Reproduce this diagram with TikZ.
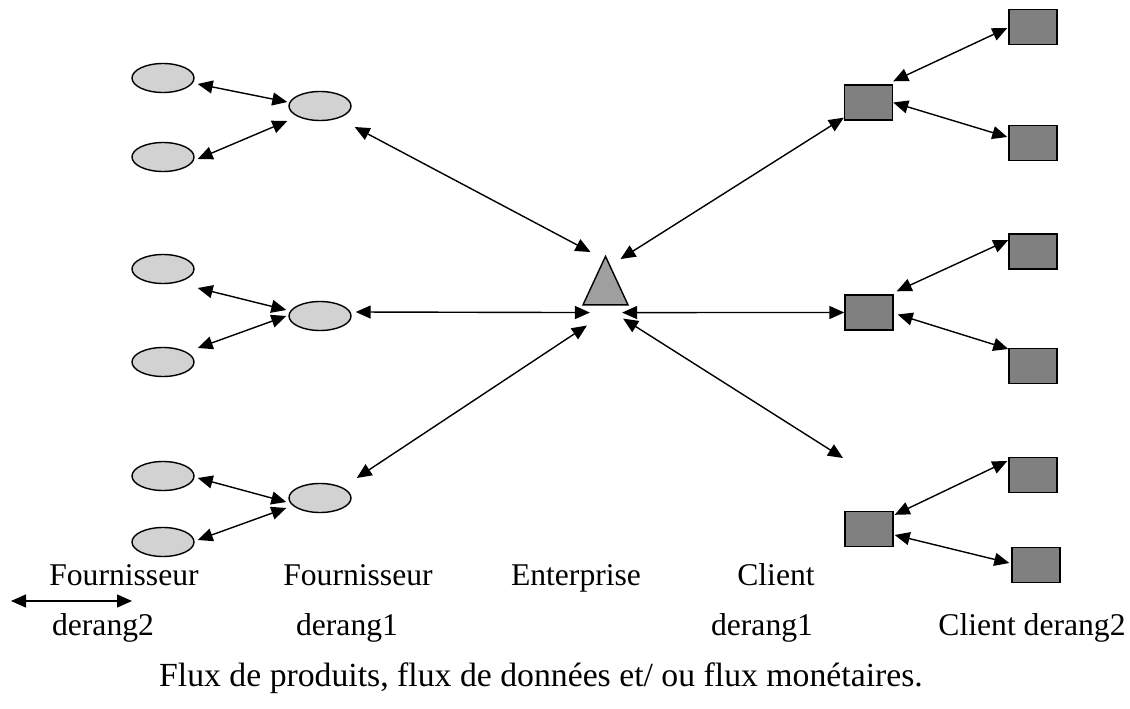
\documentclass[tikz,border=0pt]{standalone}
\usepackage{fontspec}
\setmainfont{Liberation Serif}
\usepackage{xcolor}
\usepackage{tikz}
\usetikzlibrary{arrows.meta,positioning,shapes.geometric}
\tikzset{
  >={Triangle[length=3mm,width=2.6mm]},
  fsr/.style={draw, ellipse, fill=gray!35, line width=0.8pt, minimum width=1.24cm, minimum height=0.58cm, inner sep=0pt},
  cli/.style={draw, rectangle, fill=gray, line width=0.8pt, minimum width=0.96cm, minimum height=0.70cm, inner sep=0pt},
  entr/.style={draw, isosceles triangle, shape border rotate=90, isosceles triangle stretches, fill=gray!75, line width=0.8pt, minimum width=0.9cm, minimum height=0.97cm, inner sep=0pt},
  flow/.style={<->, line width=0.8pt},
  lbl/.style={anchor=base, inner sep=0pt, font=\fontsize{18}{21}\selectfont},
}

\begin{document}
\begin{tikzpicture}
  \useasboundingbox (0,0) rectangle (22.6,14.16);
  \node[fsr] (f2a) at (3.26,12.60) {};
  \node[fsr] (f2b) at (3.26,11.02) {};
  \node[fsr] (f2c) at (3.26,8.78) {};
  \node[fsr] (f2d) at (3.26,6.92) {};
  \node[fsr] (f2e) at (3.26,4.64) {};
  \node[fsr] (f2f) at (3.26,3.32) {};
  \node[fsr] (f1a) at (6.40,12.04) {};
  \node[fsr] (f1b) at (6.40,7.84) {};
  \node[fsr] (f1c) at (6.40,4.20) {};
  \node[entr] (ent) at (12.11,8.35) {};
  \node[cli] (c1a) at (17.37,12.11) {};
  \node[cli] (c1b) at (17.38,7.91) {};
  \node[cli] (c1c) at (17.38,3.58) {};
  \node[cli] (c2a) at (20.66,13.62) {};
  \node[cli] (c2b) at (20.66,11.30) {};
  \node[cli] (c2c) at (20.66,9.13) {};
  \node[cli] (c2d) at (20.66,6.84) {};
  \node[cli] (c2e) at (20.66,4.66) {};
  \node[cli] (c2f) at (20.72,2.86) {};
  \coordinate (lost) at (16.86,5.00);
  \coordinate (leg1) at (0.22,2.14);
  \coordinate (leg2) at (2.64,2.14);
  \draw[flow] ([shift={(0.06,-0.12)}]f2a.east) -- ([shift={(-0.02,0.08)}]f1a.west);
  \draw[flow] ([shift={(0.06,-0.04)}]f2b.east) -- ([shift={(-0.02,-0.30)}]f1a.west);
  \draw[flow] ([shift={(0.06,-0.38)}]f2c.east) -- ([shift={(-0.04,0.12)}]f1b.west);
  \draw[flow] ([shift={(0.06,0.28)}]f2d.east) -- ([shift={(-0.04,0)}]f1b.west);
  \draw[flow] ([shift={(0.06,-0.04)}]f2e.east) -- ([shift={(-0.04,-0.08)}]f1c.west);
  \draw[flow] ([shift={(0.06,0.04)}]f2f.east) -- ([shift={(-0.04,-0.20)}]f1c.west);
  \draw[flow] ([shift={(0.06,-0.42)}]f1a.east) -- ([shift={(-0.30,0.05)}]ent.apex);
  \draw[flow] ([shift={(0.08,0.08)}]f1b.east) -- ([shift={(0.16,-0.14)}]ent.left corner);
  \draw[flow] ([shift={(0.10,0.40)}]f1c.east) -- ([shift={(0.10,-0.40)}]ent.left corner);
  \draw[flow] ([shift={(0.30,-0.09)}]ent.apex) -- ([shift={(0,0.06)}]c1a.south west);
  \draw[flow] ([shift={(-0.14,-0.14)}]ent.right corner) -- (c1b.west);
  \draw[flow] ([shift={(-0.12,-0.26)}]ent.right corner) -- (lost);
  \draw[flow] ([shift={(0,0.06)}]c1a.north east) -- ([shift={(-0.02,-0.02)}]c2a.west);
  \draw[flow] (c1a.east) -- ([shift={(-0.02,0.12)}]c2b.west);
  \draw[flow] ([shift={(0.06,0.06)}]c1b.north east) -- ([shift={(0,0.23)}]c2c.west);
  \draw[flow] ([shift={(0.08,-0.04)}]c1b.east) -- ([shift={(0,0.34)}]c2d.west);
  \draw[flow] ([shift={(0.02,-0.08)}]c1c.north east) -- ([shift={(-0.02,0.28)}]c2e.west);
  \draw[flow] ([shift={(0.02,-0.12)}]c1c.east) -- ([shift={(-0.04,0.04)}]c2f.west);
  \draw[flow] (leg1) -- (leg2);
  \node[lbl] (tf2) at (2.48,2.46) {Fournisseur};
  \node[lbl] (tf1) at (7.16,2.46) {Fournisseur};
  \node[lbl] (tent) at (11.52,2.46) {Enterprise};
  \node[lbl] (tc1) at (15.52,2.46) {Client};
  \node[lbl] (rf2) at (2.06,1.46) {derang2};
  \node[lbl] (rf1) at (6.94,1.46) {derang1};
  \node[lbl] (rc1) at (15.24,1.46) {derang1};
  \node[lbl] (rc2) at (20.64,1.46) {Client derang2};
  \node[lbl, font=\fontsize{19.2}{22}\selectfont] (leg) at (10.82,0.44) {Flux de produits, flux de données et/ ou flux monétaires.};
\end{tikzpicture}
\end{document}
